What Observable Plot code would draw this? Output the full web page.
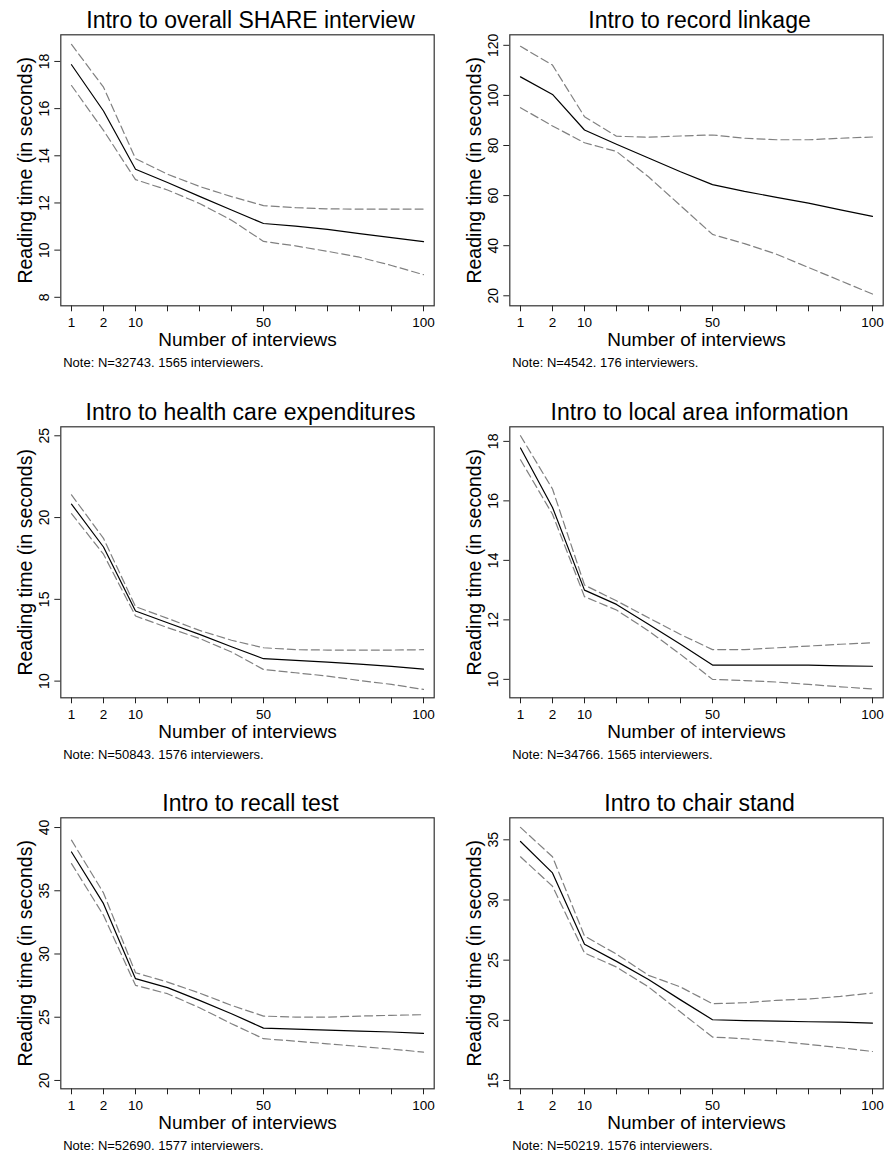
<!DOCTYPE html>
<html><head><meta charset="utf-8">
<script src="https://cdn.jsdelivr.net/npm/d3@7"></script>
<script src="https://cdn.jsdelivr.net/npm/@observablehq/plot@0.6"></script>
<style>
body{margin:0;background:#fff;}
#wrap{position:relative;width:891px;height:1155px;overflow:hidden;font-family:"Liberation Sans",Arial,sans-serif;background:#fff;}
#wrap svg{position:absolute;overflow:visible;}
</style></head><body><div id="wrap"></div>
<script>
// x categories (evenly spaced in the original chart)
const interviews = [1, 2, 10, 20, 30, 40, 50, 60, 70, 80, 90, 100];
const labeledTicks = [1, 2, 10, 50, 100];

const titles = [
  "Intro to overall SHARE interview",
  "Intro to record linkage",
  "Intro to health care expenditures",
  "Intro to local area information",
  "Intro to recall test",
  "Intro to chair stand"
];
const notes = [
  "Note: N=32743. 1565 interviewers.",
  "Note: N=4542. 176 interviewers.",
  "Note: N=50843. 1576 interviewers.",
  "Note: N=34766. 1565 interviewers.",
  "Note: N=52690. 1577 interviewers.",
  "Note: N=50219. 1576 interviewers."
];
const xTitle = "Number of interviews";
const yTitle = "Reading time (in seconds)";

// Panel 1: overall SHARE interview
const p1Mid = [17.86, 15.9, 13.43, 12.87, 12.28, 11.7, 11.13, 11.02, 10.88, 10.7, 10.53, 10.36];
const p1Hi  = [18.72, 16.91, 13.88, 13.22, 12.7, 12.27, 11.89, 11.8, 11.75, 11.74, 11.74, 11.74];
const p1Lo  = [16.98, 15.08, 12.99, 12.55, 11.98, 11.27, 10.37, 10.18, 9.95, 9.7, 9.35, 8.96];
const p1Ticks = [8, 10, 12, 14, 16, 18];
const p1Range = [7.64, 19.13];

// Panel 2: record linkage
const p2Mid = [107.4, 100.4, 86.2, 80.5, 75.0, 69.5, 64.4, 61.7, 59.3, 57.0, 54.3, 51.7];
const p2Hi  = [119.6, 112.1, 91.5, 83.7, 83.3, 83.8, 84.2, 82.9, 82.3, 82.3, 82.9, 83.4];
const p2Lo  = [95.1, 87.8, 81.1, 77.6, 67.5, 56.0, 44.5, 40.8, 36.6, 31.3, 26.0, 20.7];
const p2Ticks = [20, 40, 60, 80, 100, 120];
const p2Range = [16.0, 124.2];

// Panel 3: health care expenditures
const p3Mid = [20.82, 18.2, 14.29, 13.57, 12.86, 12.1, 11.37, 11.27, 11.16, 11.04, 10.9, 10.73];
const p3Hi  = [21.39, 18.73, 14.55, 13.84, 13.1, 12.5, 12.04, 11.92, 11.9, 11.9, 11.9, 11.92];
const p3Lo  = [20.24, 17.76, 13.98, 13.27, 12.61, 11.78, 10.71, 10.51, 10.31, 10.04, 9.8, 9.49];
const p3Ticks = [10, 15, 20, 25];
const p3Range = [8.98, 25.55];

// Panel 4: local area information
const p4Mid = [17.78, 15.78, 13.0, 12.52, 11.85, 11.18, 10.48, 10.48, 10.48, 10.48, 10.45, 10.44];
const p4Hi  = [18.19, 16.4, 13.17, 12.64, 12.07, 11.51, 11.0, 11.0, 11.06, 11.12, 11.18, 11.23];
const p4Lo  = [17.38, 15.55, 12.78, 12.33, 11.63, 10.84, 10.0, 9.96, 9.91, 9.83, 9.75, 9.68];
const p4Ticks = [10, 12, 14, 16, 18];
const p4Range = [9.38, 18.49];

// Panel 5: recall test
const p5Mid = [38.07, 33.98, 28.05, 27.34, 26.33, 25.28, 24.14, 24.06, 23.98, 23.9, 23.83, 23.72];
const p5Hi  = [39.0, 34.83, 28.52, 27.78, 26.91, 25.94, 25.09, 25.01, 25.01, 25.09, 25.15, 25.2];
const p5Lo  = [37.15, 33.06, 27.52, 26.86, 25.75, 24.49, 23.3, 23.11, 22.9, 22.69, 22.48, 22.24];
const p5Ticks = [20, 25, 30, 35, 40];
const p5Range = [19.34, 40.77];

// Panel 6: chair stand
const p6Mid = [34.86, 32.25, 26.32, 24.9, 23.4, 21.7, 20.05, 19.97, 19.94, 19.88, 19.85, 19.77];
const p6Hi  = [36.03, 33.59, 27.01, 25.5, 23.74, 22.77, 21.38, 21.46, 21.66, 21.77, 21.99, 22.27];
const p6Lo  = [33.59, 31.14, 25.6, 24.43, 22.77, 20.69, 18.61, 18.47, 18.27, 18.0, 17.72, 17.41];
const p6Ticks = [15, 20, 25, 30, 35];
const p6Range = [14.31, 36.83];

const panels = [
  [p1Mid, p1Hi, p1Lo, p1Ticks, p1Range],
  [p2Mid, p2Hi, p2Lo, p2Ticks, p2Range],
  [p3Mid, p3Hi, p3Lo, p3Ticks, p3Range],
  [p4Mid, p4Hi, p4Lo, p4Ticks, p4Range],
  [p5Mid, p5Hi, p5Lo, p5Ticks, p5Range],
  [p6Mid, p6Hi, p6Lo, p6Ticks, p6Range]
];

const wrap = document.getElementById("wrap");
const FONT = '"Liberation Sans", Arial, sans-serif';

panels.forEach(([mid, hi, lo, yTicks, yRange], k) => {
  const col = k % 2, row = Math.floor(k / 2);
  const rows = interviews.map((n, i) => ({n, mid: mid[i], hi: hi[i], lo: lo[i]}));
  const chart = Plot.plot({
    width: 442,
    height: 392,
    marginTop: 34.3,
    marginBottom: 86.7,
    marginLeft: 60.3,
    marginRight: 8.3,
    style: {fontFamily: FONT, background: "transparent", color: "#000"},
    x: {type: "point", domain: interviews, padding: 0.269},
    y: {domain: yRange},
    marks: [
      Plot.axisX({ticks: interviews, tickSize: 6, tickPadding: 5.5,
        tickFormat: d => labeledTicks.includes(d) ? String(d) : "",
        fontSize: 13.5, label: null, stroke: "#222"}),
      Plot.axisY({ticks: yTicks, tickSize: 6, tickPadding: 6, tickRotate: -90,
        fontSize: 14, label: null, stroke: "#222"}),
      Plot.line(rows, {x: "n", y: "hi", stroke: "#808080", strokeWidth: 1.2, strokeDasharray: "8,4"}),
      Plot.line(rows, {x: "n", y: "lo", stroke: "#808080", strokeWidth: 1.2, strokeDasharray: "8,4"}),
      Plot.line(rows, {x: "n", y: "mid", stroke: "#000", strokeWidth: 1.2}),
      Plot.frame({stroke: "#333", strokeWidth: 1.2}),
      Plot.text([titles[k]], {text: d => d, frameAnchor: "top", lineAnchor: "bottom", dy: -6.5, dx: 3, fontSize: 23, fill: "#000"}),
      Plot.text([xTitle], {text: d => d, frameAnchor: "bottom", lineAnchor: "bottom", dy: 40, fontSize: 19, fill: "#000"}),
      Plot.text([yTitle], {text: d => d, frameAnchor: "left", textAnchor: "middle", rotate: -90, lineAnchor: "bottom", dx: -29.3, fontSize: 19.5, fill: "#000"}),
      Plot.text([notes[k]], {text: d => d, frameAnchor: "bottom-left", textAnchor: "start", lineAnchor: "bottom", dx: 2.4, dy: 61, fontSize: 13, fill: "#000"})
    ]
  });
  chart.style.left = (col * 448.7) + "px";
  chart.style.top = (row * 391.7) + "px";
  wrap.appendChild(chart);
});
</script>
</body></html>
